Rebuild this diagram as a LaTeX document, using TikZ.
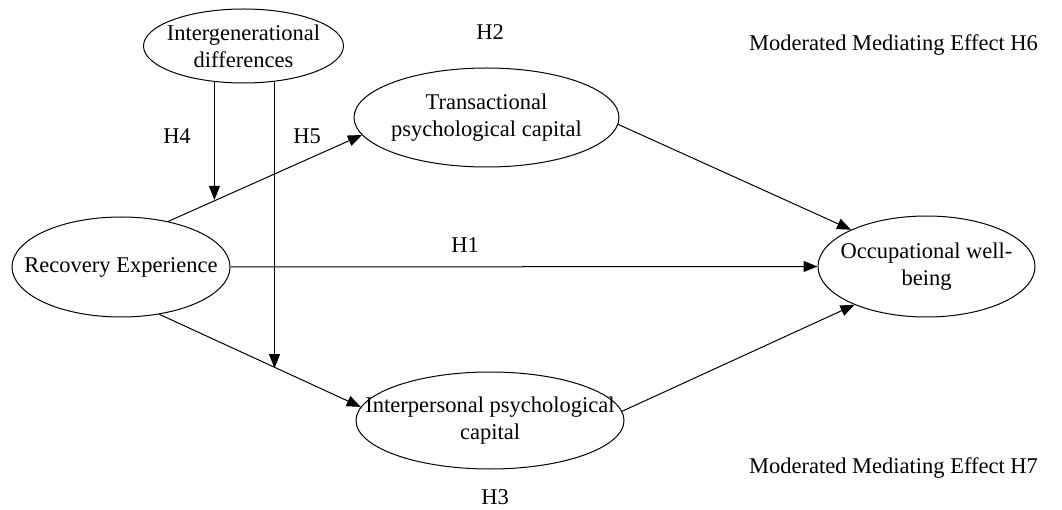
\documentclass[tikz,border=0pt]{standalone}
\usepackage{fontspec}
\setmainfont{Liberation Serif}
\usetikzlibrary{arrows.meta,shapes.geometric,calc}
\tikzset{
  ell/.style={draw, ellipse, line width=1pt, inner sep=0pt},
  txt/.style={align=center, inner sep=0pt, font=\fontsize{22.5}{27}\selectfont},
  arr/.style={line width=1pt, -{Triangle[length=14pt,width=11pt]}},
  plain/.style={line width=1pt}
}
\begin{document}
\begin{tikzpicture}[x=1pt,y=-1pt]
\useasboundingbox (0,0) rectangle (1062,510);
% ellipses
\node[ell, minimum width=200pt, minimum height=74pt] (ig) at (243.5,46) {};
\node[txt] (igt) at (ig) {Intergenerational\\differences};
\node[ell, minimum width=265pt, minimum height=99pt] (tpc) at (486.5,117.5) {};
\node[txt] (tpct) at (tpc) {Transactional\\psychological capital};
\node[ell, minimum width=218pt, minimum height=100pt] (re) at (121,267) {};
\node[txt] (ret) at (re) {Recovery Experience};
\node[ell, minimum width=217pt, minimum height=101pt] (ow) at (926.5,266.5) {};
\node[txt] (owt) at (ow) {Occupational well-\\being};
\node[ell, minimum width=268pt, minimum height=97pt] (ipc) at (490,420.5) {};
\node[txt] (ipct) at (ipc) {Interpersonal psychological\\capital};
% labels
\node[txt] (h2) at (490,32) {H2};
\node[txt] (h6) at (893.5,45) {Moderated Mediating Effect H6};
\node[txt] (h4) at (177,136) {H4};
\node[txt] (h5) at (307,136) {H5};
\node[txt] (h1) at (465,245) {H1};
\node[txt] (h7) at (893.5,468) {Moderated Mediating Effect H7};
\node[txt] (h3) at (495,497) {H3};
% edges
\draw[arr] (re.44) -- (tpc.188);
\draw[arr] (re.east) -- (ow.west);
\draw[arr] (re.-51) -- (ipc.174);
\draw[arr] (tpc.-3.7) -- (ow.154.5);
\draw[arr] (ipc.4.5) -- (ow.208.9);
% moderation
\coordinate (m1) at ($(re.44)!0.249!(tpc.188)$);
\coordinate (m2) at ($(re.-51)!0.582!(ipc.174)$);
\draw[arr] (ig.231) -- (ig.231 |- m1);
\draw[arr] (ig.-49) -- (ig.-49 |- m2);
\end{tikzpicture}
\end{document}
